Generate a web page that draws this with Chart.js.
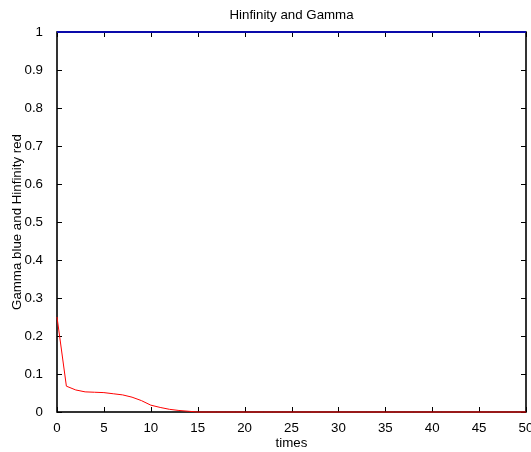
<html>
  <head>
    <script src="https://cdn.jsdelivr.net/npm/chart.js@4.4.0/dist/chart.umd.min.js"></script>
    <meta charset="utf-8">
    <title>Hinfinity and Gamma</title>
    <style>
      body { margin: 0; background: #fff; overflow: hidden; }
    </style>
  </head>
  <body>
    <canvas id="myChart" width="531" height="452"></canvas>
    <script type="text/javascript">
      // sample times
      var times = [0, 1, 2, 3, 4, 5, 6, 7, 8, 9, 10, 11, 12, 13, 14, 15, 16, 17, 18, 19, 20,
                   21, 22, 23, 24, 25, 26, 27, 28, 29, 30, 31, 32, 33, 34, 35, 36, 37, 38, 39, 40,
                   41, 42, 43, 44, 45, 46, 47, 48, 49, 50];
      // gamma (blue)
      var gamma = [1, 1, 1, 1, 1, 1, 1, 1, 1, 1, 1, 1, 1, 1, 1, 1, 1, 1, 1, 1, 1,
                   1, 1, 1, 1, 1, 1, 1, 1, 1, 1, 1, 1, 1, 1, 1, 1, 1, 1, 1, 1,
                   1, 1, 1, 1, 1, 1, 1, 1, 1, 1];
      // hinfinity (red)
      var hinf = [0.25, 0.068, 0.058, 0.053, 0.052, 0.051, 0.048, 0.045, 0.039, 0.03, 0.018,
                  0.012, 0.007, 0.004, 0.002, 0, 0, 0, 0, 0, 0,
                  0, 0, 0, 0, 0, 0, 0, 0, 0, 0, 0, 0, 0, 0, 0, 0, 0, 0, 0, 0,
                  0, 0, 0, 0, 0, 0, 0, 0, 0, 0];
      var xTicks = [0, 5, 10, 15, 20, 25, 30, 35, 40, 45, 50];
      var yTicks = [0, 0.1, 0.2, 0.3, 0.4, 0.5, 0.6, 0.7, 0.8, 0.9, 1];
      var titleText = 'Hinfinity and Gamma';
      var FONT = 'Liberation Sans';
      var FSIZE = 13.3;

      function pts(ys) {
        return times.map(function (t, i) { return {x: t, y: ys[i]}; });
      }

      // matlab style box with inward ticks on all four sides, plus the title
      var boxTicks = {
        id: 'boxTicks',
        beforeDatasetsDraw: function (chart) {
          var ctx = chart.ctx, a = chart.chartArea;
          var xs = chart.scales.x, ys = chart.scales.y;
          ctx.save();
          ctx.strokeStyle = '#000';
          ctx.lineWidth = 1;
          ctx.beginPath();
          xTicks.forEach(function (v) {
            var px = Math.round(xs.getPixelForValue(v)) + 0.5;
            ctx.moveTo(px, a.bottom); ctx.lineTo(px, a.bottom - 5);
            ctx.moveTo(px, a.top); ctx.lineTo(px, a.top + 5);
          });
          yTicks.forEach(function (v) {
            var py = Math.round(ys.getPixelForValue(v)) + 0.5;
            ctx.moveTo(a.left, py); ctx.lineTo(a.left + 5, py);
            ctx.moveTo(a.right, py); ctx.lineTo(a.right - 5, py);
          });
          ctx.stroke();
          ctx.lineWidth = 1.6;
          ctx.strokeRect(a.left, a.top, a.right - a.left, a.bottom - a.top);
          // title centred over the plot box
          ctx.fillStyle = '#000';
          ctx.font = FSIZE + 'px "' + FONT + '"';
          ctx.textAlign = 'center';
          ctx.textBaseline = 'alphabetic';
          ctx.fillText(titleText, (a.left + a.right) / 2, 19);
          ctx.restore();
        }
      };

      var ctx = document.getElementById('myChart').getContext('2d');
      var chart = new Chart(ctx, {
        type: 'line',
        data: {
          datasets: [{
            label: 'Gamma',
            data: pts(gamma),
            borderColor: 'rgb(10, 10, 170)',
            borderWidth: 2,
            pointRadius: 0,
            tension: 0,
            clip: false
          }, {
            label: 'Hinfinity',
            data: pts(hinf),
            borderColor: 'rgb(255, 0, 0)',
            borderWidth: 1,
            pointRadius: 0,
            tension: 0,
            clip: false
          }]
        },
        options: {
          responsive: false,
          animation: false,
          layout: { padding: { left: 0, right: 5, top: 32, bottom: 0 } },
          plugins: {
            legend: { display: false },
            tooltip: { enabled: false },
            title: { display: false }
          },
          scales: {
            x: {
              type: 'linear',
              min: 0, max: 50,
              afterBuildTicks: function (s) { s.ticks = xTicks.map(function (v) { return {value: v}; }); },
              afterFit: function (s) { s.height = 40; s.paddingLeft = 0; s.paddingRight = 0; },
              grid: { display: false },
              border: { display: false },
              ticks: { color: '#000', font: { family: FONT, size: FSIZE }, padding: 0, maxRotation: 0 },
              title: { display: true, text: 'times', color: '#000', font: { family: FONT, size: FSIZE }, padding: { top: 0, bottom: 1 } }
            },
            y: {
              min: 0, max: 1,
              afterBuildTicks: function (s) { s.ticks = yTicks.map(function (v) { return {value: v}; }); },
              afterFit: function (s) { s.width = 57; s.paddingTop = 0; s.paddingBottom = 0; },
              grid: { display: false },
              border: { display: false },
              ticks: { color: '#000', font: { family: FONT, size: FSIZE }, padding: 6,
                       callback: function (v) { return String(Math.round(v * 10) / 10); } },
              title: { display: true, text: 'Gamma blue and Hinfinity red', color: '#000', font: { family: FONT, size: FSIZE }, padding: { top: 9, bottom: 0 } }
            }
          }
        },
        plugins: [boxTicks]
      });
    </script>
  </body>
</html>
